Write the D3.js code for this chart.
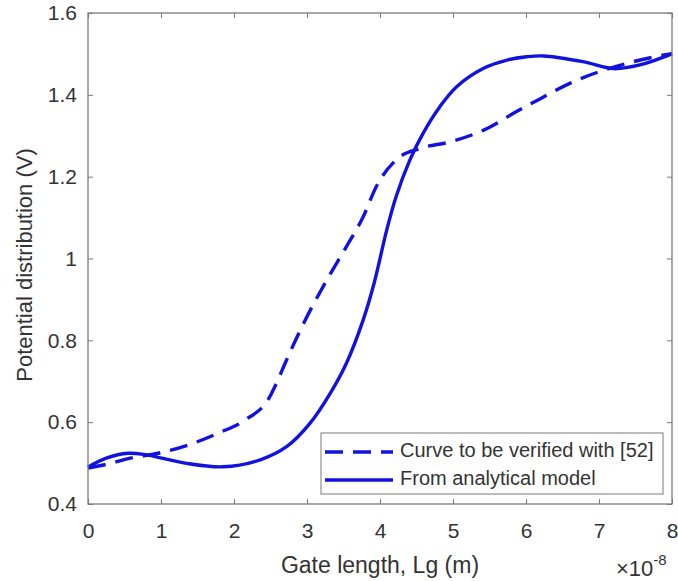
<!DOCTYPE html>
<html>
<head>
<meta charset="utf-8">
<script src="https://cdn.jsdelivr.net/npm/d3@7"></script>
<style>
  html, body { margin: 0; padding: 0; background: #fff; }
  svg { display: block; font-family: "Liberation Sans", Arial, sans-serif; }
</style>
</head>
<body>
<svg id="chart" width="678" height="581"></svg>
<script>
// Gate length in units of 1e-8 m
const verifiedX = [0, 0.3, 0.55, 0.96, 1.37, 1.78, 2.15, 2.49, 2.56, 2.72, 2.9, 3.27, 3.54, 3.77, 3.95, 4.22, 4.55, 4.96, 5.46, 5.87, 6.19, 6.6, 7.01, 7.47, 8.0];
const verifiedY = [0.488, 0.499, 0.511, 0.524, 0.544, 0.573, 0.605, 0.662, 0.687, 0.752, 0.822, 0.947, 1.029, 1.102, 1.176, 1.241, 1.269, 1.285, 1.317, 1.359, 1.390, 1.428, 1.457, 1.481, 1.501];

const modelX = [0, 0.25, 0.55, 0.8, 1.33, 1.85, 2.36, 2.72, 3.04, 3.32, 3.54, 3.77, 3.92, 4.09, 4.22, 4.41, 4.59, 4.82, 5.05, 5.42, 5.74, 6.01, 6.24, 6.78, 7.2, 7.56, 8.0];
const modelY = [0.490, 0.512, 0.524, 0.520, 0.500, 0.491, 0.508, 0.540, 0.597, 0.671, 0.744, 0.850, 0.940, 1.068, 1.151, 1.241, 1.306, 1.371, 1.420, 1.465, 1.485, 1.493, 1.495, 1.481, 1.464, 1.473, 1.500];

const xTicks = [0, 1, 2, 3, 4, 5, 6, 7, 8];
const yTicks = [0.4, 0.6, 0.8, 1.0, 1.2, 1.4, 1.6];
const yTickLabels = ["0.4", "0.6", "0.8", "1", "1.2", "1.4", "1.6"];
const seriesNames = ["Curve to be verified with [52]", "From analytical model"];

const svg = d3.select("#chart");
const plot = { left: 88, right: 672, top: 13, bottom: 504 };
const lineColor = "#1212e0";
const axisColor = "#7a7a7a";
const textColor = "#333";
const dashPattern = "18,10";

const x = d3.scaleLinear().domain([0, 8]).range([plot.left, plot.right]);
const y = d3.scaleLinear().domain([0.4, 1.6]).range([plot.bottom, plot.top]);

// plot background
svg.append("rect").attr("x", plot.left).attr("y", plot.top)
  .attr("width", plot.right - plot.left).attr("height", plot.bottom - plot.top).attr("fill", "#fff");

// curves
const verified = verifiedX.map((v, i) => [v, verifiedY[i]]);
const model = modelX.map((v, i) => [v, modelY[i]]);

const lineMono = d3.line().x(d => x(d[0])).y(d => y(d[1])).curve(d3.curveMonotoneX);
const lineSmooth = d3.line().x(d => x(d[0])).y(d => y(d[1])).curve(d3.curveCatmullRom.alpha(0.5));

svg.append("path").datum(verified).attr("d", lineMono)
  .attr("fill", "none").attr("stroke", lineColor).attr("stroke-width", 3.4)
  .attr("stroke-dasharray", dashPattern);
svg.append("path").datum(model).attr("d", lineSmooth)
  .attr("fill", "none").attr("stroke", lineColor).attr("stroke-width", 3.4);

// axes with inward ticks on all four sides
const tickLen = 5;
const gx = svg.append("g").attr("transform", `translate(0,${plot.bottom})`)
  .call(d3.axisBottom(x).tickValues(xTicks).tickSize(-tickLen).tickPadding(19).tickFormat(d3.format("d")));
const gxt = svg.append("g").attr("transform", `translate(0,${plot.top})`)
  .call(d3.axisTop(x).tickValues(xTicks).tickSize(-tickLen).tickFormat(""));
const gy = svg.append("g").attr("transform", `translate(${plot.left},0)`)
  .call(d3.axisLeft(y).tickValues(yTicks).tickSize(-tickLen).tickPadding(11)
    .tickFormat((d, i) => yTickLabels[i]));
const gyr = svg.append("g").attr("transform", `translate(${plot.right},0)`)
  .call(d3.axisRight(y).tickValues(yTicks).tickSize(-tickLen).tickFormat(""));

[gx, gxt, gy, gyr].forEach(g => {
  g.selectAll(".domain").remove();
  g.selectAll("line").attr("stroke", axisColor).attr("stroke-width", 1);
  g.selectAll("text").attr("fill", textColor).attr("font-size", 21)
    .attr("font-family", "'Liberation Sans', Arial, sans-serif");
});

// frame
svg.append("rect").attr("x", plot.left).attr("y", plot.top)
  .attr("width", plot.right - plot.left).attr("height", plot.bottom - plot.top)
  .attr("fill", "none").attr("stroke", axisColor).attr("stroke-width", 1.3);

// axis labels
svg.append("text").attr("x", (plot.left + plot.right) / 2).attr("y", 573)
  .attr("text-anchor", "middle").attr("font-size", 23).attr("fill", textColor)
  .text("Gate length, Lg (m)");
svg.append("text")
  .attr("transform", `translate(32,265) rotate(-90)`)
  .attr("text-anchor", "middle").attr("font-size", 22).attr("fill", textColor)
  .text("Potential distribution (V)");

// exponent label
const expo = svg.append("text").attr("x", 616).attr("y", 576)
  .attr("font-size", 22).attr("fill", textColor);
expo.append("tspan").text("×10");
expo.append("tspan").attr("dy", -11).attr("font-size", 15).text("-8");

// legend
const lg = svg.append("g");
lg.append("rect").attr("x", 321).attr("y", 433).attr("width", 342).attr("height", 61)
  .attr("fill", "#fff").attr("stroke", axisColor).attr("stroke-width", 1);
const legendRows = [
  { name: seriesNames[0], dash: dashPattern, y: 452 },
  { name: seriesNames[1], dash: null, y: 480 }
];
legendRows.forEach(r => {
  const ln = lg.append("line").attr("x1", 325).attr("x2", 393)
    .attr("y1", r.y).attr("y2", r.y)
    .attr("stroke", lineColor).attr("stroke-width", 3.4);
  if (r.dash) ln.attr("stroke-dasharray", r.dash);
  lg.append("text").attr("x", 400).attr("y", r.y + 5)
    .attr("font-size", 20).attr("fill", textColor).text(r.name);
});
</script>
</body>
</html>
